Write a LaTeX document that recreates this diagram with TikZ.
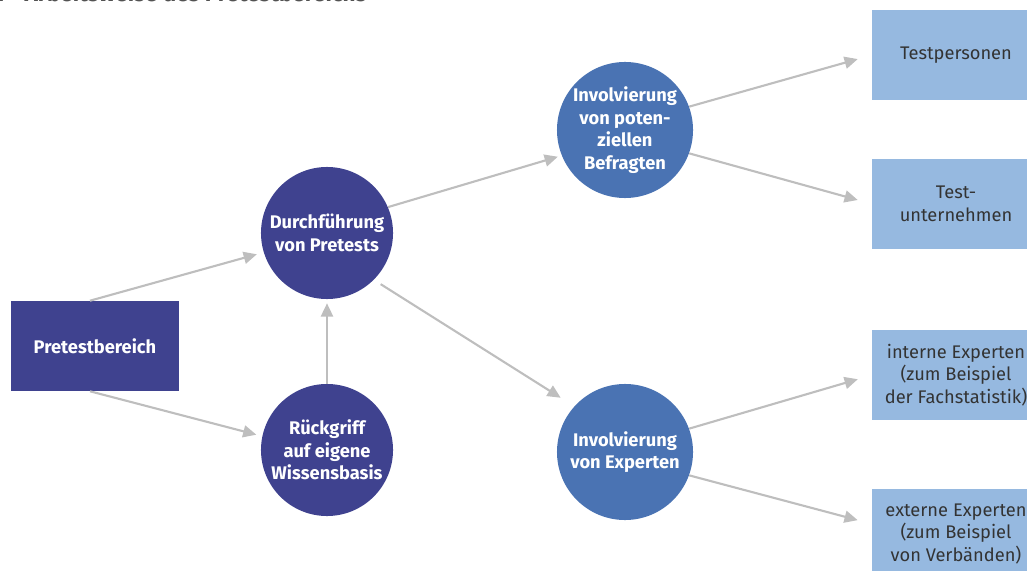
\documentclass[tikz,border=0pt]{standalone}
\usepackage{fontspec}
\setmainfont{Fira Sans}
\usetikzlibrary{positioning,arrows.meta}
\definecolor{pbdark}{RGB}{63,66,143}
\definecolor{pbmid}{RGB}{74,115,179}
\definecolor{pblight}{RGB}{150,185,224}
\definecolor{pbgray}{RGB}{190,190,190}
\definecolor{pbtext}{RGB}{51,51,51}
\tikzset{
  flowbox/.style={rectangle, align=center, inner sep=0pt,
    minimum width=4.175cm, minimum height=2.25cm},
  flowdark/.style={flowbox, fill=pbdark, text=white, font=\fontsize{13}{16}\selectfont\bfseries},
  flowlight/.style={flowbox, fill=pblight, text=pbtext, font=\fontsize{13}{16}\selectfont},
  flowcircle/.style={circle, minimum size=3.3cm, inner sep=0pt, align=center,
    text=white, font=\fontsize{13}{16}\selectfont\bfseries},
  flowarrow/.style={-{Triangle[length=3.3mm,width=3mm]}, line width=1.5pt, draw=pbgray},
}

\begin{document}
\begin{tikzpicture}[x=0.025cm, y=-0.025cm]
  \useasboundingbox (0,0) rectangle (1027,571);
  \node[anchor=base west, inner sep=0pt, text=pbtext!85, font=\fontsize{16}{18}\selectfont\bfseries] (titel) at (-6,2) {1\hspace{5mm}Arbeitsweise des Pretestbereichs};
  \node[flowdark] (pre) at (95,346) {Pretestbereich};
  \node[flowcircle, fill=pbdark] (durch) at (327,233) {Durchführung\\von Pretests};
  \node[flowcircle, fill=pbdark] (rueck) at (327,450) {Rückgriff\\auf eigene\\Wissensbasis};
  \node[flowcircle, fill=pbmid, minimum size=3.4cm] (invpot) at (625,130) {Involvierung\\von poten-\\ziellen\\Befragten};
  \node[flowcircle, fill=pbmid, minimum size=3.4cm] (invexp) at (625,452) {Involvierung\\von Experten};
  \node[flowlight] (tp) at (956,55) {Testpersonen};
  \node[flowlight] (tu) at (956,204) {Test-\\unternehmen};
  \node[flowlight] (ie) at (956,375) {interne Experten\\(zum Beispiel\\der Fachstatistik)};
  \node[flowlight] (ee) at (956,534) {externe Experten\\(zum Beispiel\\von Verbänden)};
  % Pretestbereich
  \draw[flowarrow, shorten >=1.75mm] ([xshift=-1.25mm]pre.north) -- (durch.197);
  \draw[flowarrow, shorten >=1.5mm] ([xshift=-1.25mm]pre.south) -- (rueck.168);
  \draw[flowarrow, shorten >=1mm] (rueck.north) -- (durch.south);
  % Durchführung von Pretests
  \draw[flowarrow, shorten >=1mm] (durch.23) -- (invpot.202);
  \draw[flowarrow, shorten <=2mm, shorten >=4mm] (durch.-45) -- (invexp.138);
  % Involvierung
  \draw[flowarrow, shorten >=3.75mm] (invpot.20) -- (tp.west);
  \draw[flowarrow, shorten >=3.75mm] (invpot.-20) -- (tu.west);
  \draw[flowarrow, shorten >=3.75mm] (invexp.20) -- (ie.west);
  \draw[flowarrow, shorten >=3.75mm] (invexp.-20) -- ([yshift=2.5mm]ee.west);
\end{tikzpicture}
\end{document}
